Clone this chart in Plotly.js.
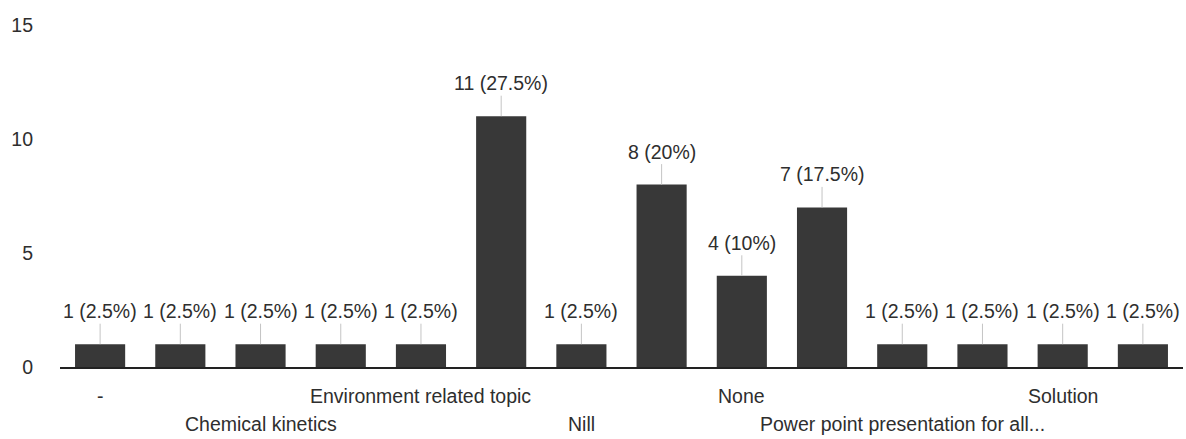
<!DOCTYPE html>
<html>
<head>
<meta charset="utf-8">
<script src="https://cdn.plot.ly/plotly-3.0.1.min.js"></script>
<style>html,body{margin:0;padding:0;background:#fff;}#chart{width:1186px;height:439px;}</style>
</head>
<body>
<div id="chart"></div>
<script>
// Category labels as shown (unlabelled categories are not visible in the chart)
const categories = ["-", "", "Chemical kinetics", "", "Environment related topic", "", "Nill", "", "None", "", "Power point presentation for all...", "", "Solution", ""];
const counts = [1, 1, 1, 1, 1, 11, 1, 8, 4, 7, 1, 1, 1, 1];
const yTicks = [0, 5, 10, 15];

const total = counts.reduce((a, b) => a + b, 0);
const xs = categories.map((_, i) => i);
const FONT = "Liberation Sans, Arial, sans-serif";
const TEXT = "#2e2e2e";

const annotations = [];
counts.forEach((v, i) => {
  const pct = Math.round(v / total * 1000) / 10;
  annotations.push({
    x: xs[i], y: v, xref: "x", yref: "y",
    text: v + " (" + pct + "%)",
    showarrow: true, arrowhead: 0, arrowwidth: 1, arrowcolor: "#c4c4c4",
    ax: 0, ay: -33, standoff: 0,
    font: {family: FONT, size: 19.5, color: TEXT}
  });
});
categories.forEach((c, i) => {
  if (!c) return;
  const row = (i % 4 === 0) ? 1 : 2;
  annotations.push({
    x: xs[i], y: 0, xref: "x", yref: "y",
    text: c, showarrow: false,
    yanchor: "middle", yshift: row === 1 ? -29 : -57,
    font: {family: FONT, size: 19.5, color: TEXT}
  });
});

const trace = {
  type: "bar",
  x: xs,
  y: counts,
  marker: {color: "#383838", line: {width: 0}},
  hoverinfo: "none"
};

const layout = {
  width: 1186, height: 439,
  margin: {l: 60, r: 3, t: 25, b: 72},
  paper_bgcolor: "#ffffff",
  plot_bgcolor: "#ffffff",
  bargap: 0.375,
  showlegend: false,
  font: {family: FONT, size: 19.5, color: TEXT},
  xaxis: {
    range: [-0.5, categories.length - 0.5],
    showticklabels: false, ticks: "",
    showgrid: false, zeroline: false,
    showline: true, linecolor: "#222222", linewidth: 2
  },
  yaxis: {
    range: [0, 15],
    tickvals: yTicks,
    ticktext: yTicks.map(String),
    ticks: "", showgrid: false, zeroline: false, showline: false,
    ticklabelstandoff: 26,
    tickfont: {family: FONT, size: 19.5, color: TEXT}
  },
  annotations: annotations
};

Plotly.newPlot("chart", [trace], layout, {staticPlot: true, displayModeBar: false});
</script>
</body>
</html>
